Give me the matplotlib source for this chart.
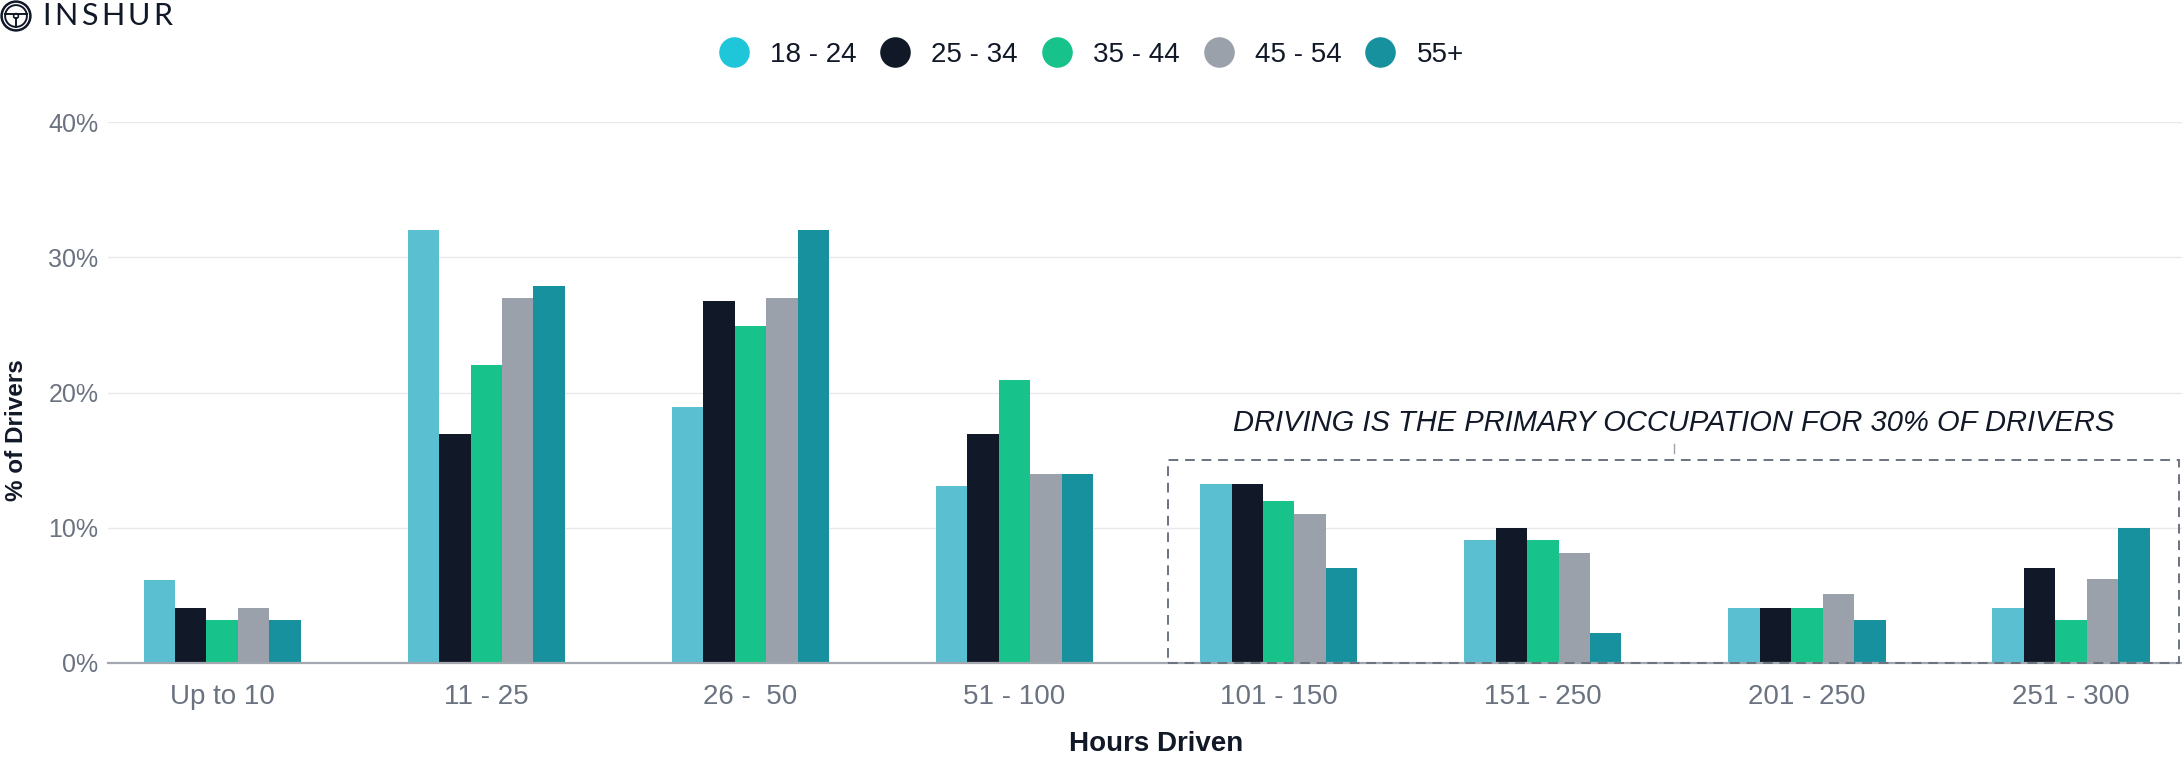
import matplotlib
matplotlib.use("Agg")
import matplotlib.pyplot as plt
from matplotlib.lines import Line2D
from matplotlib.patches import Circle, Rectangle
import numpy as np

plt.rcParams['font.family'] = ['Liberation Sans', 'DejaVu Sans']

categories = ["Up to 10", "11 - 25", "26 -  50", "51 - 100", "101 - 150",
              "151 - 250", "201 - 250", "251 - 300"]
series_names = ["18 - 24", "25 - 34", "35 - 44", "45 - 54", "55+"]
v_18_24 = [6.1, 32.0, 18.9, 13.1, 13.2, 9.1, 4.05, 4.05]
v_25_34 = [4.1, 16.9, 26.8, 16.9, 13.2, 10.0, 4.05, 7.0]
v_35_44 = [3.15, 22.0, 24.9, 20.9, 12.0, 9.1, 4.05, 3.2]
v_45_54 = [4.1, 27.0, 27.0, 13.95, 11.0, 8.1, 5.1, 6.2]
v_55p = [3.15, 27.9, 32.0, 13.95, 7.0, 2.2, 3.2, 10.0]
series_values = [v_18_24, v_25_34, v_35_44, v_45_54, v_55p]
yticks = [0, 10, 20, 30, 40]
ytick_labels = ["0%", "10%", "20%", "30%", "40%"]
annotation = "DRIVING IS THE PRIMARY OCCUPATION FOR 30% OF DRIVERS"
logo_text = "INSHUR"

bar_colors = ["#5BBFD2", "#111827", "#17C38B", "#9BA1AB", "#17919E"]
legend_colors = ["#1FC5D8", "#111827", "#17C38B", "#9BA1AB", "#17919E"]
tick_gray = "#6B7280"
dark = "#111827"

W, H = 2182, 769
fig = plt.figure(figsize=(W / 100, H / 100), dpi=100)
ax = fig.add_axes([108 / W, 1 - 663 / H, 1 - 108 / W, (663 - 122) / H])

x = np.arange(len(categories))
bw = 0.119
for j, (vals, col) in enumerate(zip(series_values, bar_colors)):
    ax.bar(x + (j - 2) * bw, vals, width=bw, color=col, zorder=3, linewidth=0)

ax.set_xlim(-0.432, 7.42)
ax.set_ylim(0, 40)
ax.set_yticks(yticks)
ax.set_yticklabels(ytick_labels)
ax.set_xticks(x)
ax.set_xticklabels(categories)
ax.tick_params(axis='y', length=0, pad=7, labelsize=18, labelcolor=tick_gray)
ax.tick_params(axis='x', length=0, pad=15, labelsize=20, labelcolor=tick_gray)
ax.grid(axis='y', color="#E8E9EC", linewidth=1.0, zorder=0)
for s in ['top', 'right', 'left']:
    ax.spines[s].set_visible(False)
ax.spines['bottom'].set_color("#A3A7AF")
ax.spines['bottom'].set_linewidth(1.6)
ax.spines['bottom'].set_zorder(4)

# highlight box
bx0, bx1, by1 = 3.58, 7.41, 15.0
ax.add_patch(Rectangle((bx0, 0), bx1 - bx0, by1, fill=False, edgecolor="#6B7280",
                       linewidth=1.4, linestyle=(0, (5, 3.5)), zorder=5, clip_on=False))
bc = (bx0 + bx1) / 2
ax.plot([bc, bc], [15.55, 16.2], color="#9CA3AF", linewidth=1.0, zorder=5)
ax.text(bc, 17.15, annotation, ha='center', va='baseline', style='italic',
        fontsize=21, color=dark, zorder=6)

# axis labels
fig.text(17 / W, 1 - 430 / H, "% of Drivers", rotation=90, ha='center', va='center',
         fontsize=17.5, fontweight='bold', color=dark)
fig.text(1156 / W, 1 - 744 / H, "Hours Driven", ha='center', va='center',
         fontsize=20, fontweight='bold', color=dark)

# legend
handles = [Line2D([0], [0], marker='o', linestyle='none', markersize=22,
                  markerfacecolor=c, markeredgewidth=0) for c in legend_colors]
fig.legend(handles, series_names, loc='center', bbox_to_anchor=(0.5, 1 - 55 / H),
           ncol=5, frameon=False, fontsize=20, handlelength=1.1, handletextpad=0.75,
           columnspacing=0.85, labelcolor=dark)

# logo
lax = fig.add_axes([0, 1 - 32 / H, 32 / W, 32 / H])
lax.set_xlim(-1, 1)
lax.set_ylim(-1, 1)
lax.set_aspect('equal')
lax.axis('off')
lax.add_patch(Circle((0, 0), 0.9, fill=False, edgecolor=dark, linewidth=1.8))
lax.add_patch(Circle((0, 0), 0.68, fill=False, edgecolor=dark, linewidth=1.4))
lax.plot([-0.68, 0.68], [0.1, 0.1], color=dark, linewidth=1.4)
lax.add_patch(Circle((0, 0.0), 0.15, fill=False, edgecolor=dark, linewidth=1.2))
lax.plot([0, 0], [-0.15, -0.68], color=dark, linewidth=1.4)

renderer = fig.canvas.get_renderer()
cursor = 42.0
gap = 3.5
for ch in logo_text:
    t = fig.text(cursor / W, 1 - 16 / H, ch, ha='left', va='center', fontsize=22,
                 color=dark, family=['Lato', 'DejaVu Sans'])
    ext = t.get_window_extent(renderer=renderer)
    cursor += ext.width + gap

fig.savefig("out.png", dpi=100)
